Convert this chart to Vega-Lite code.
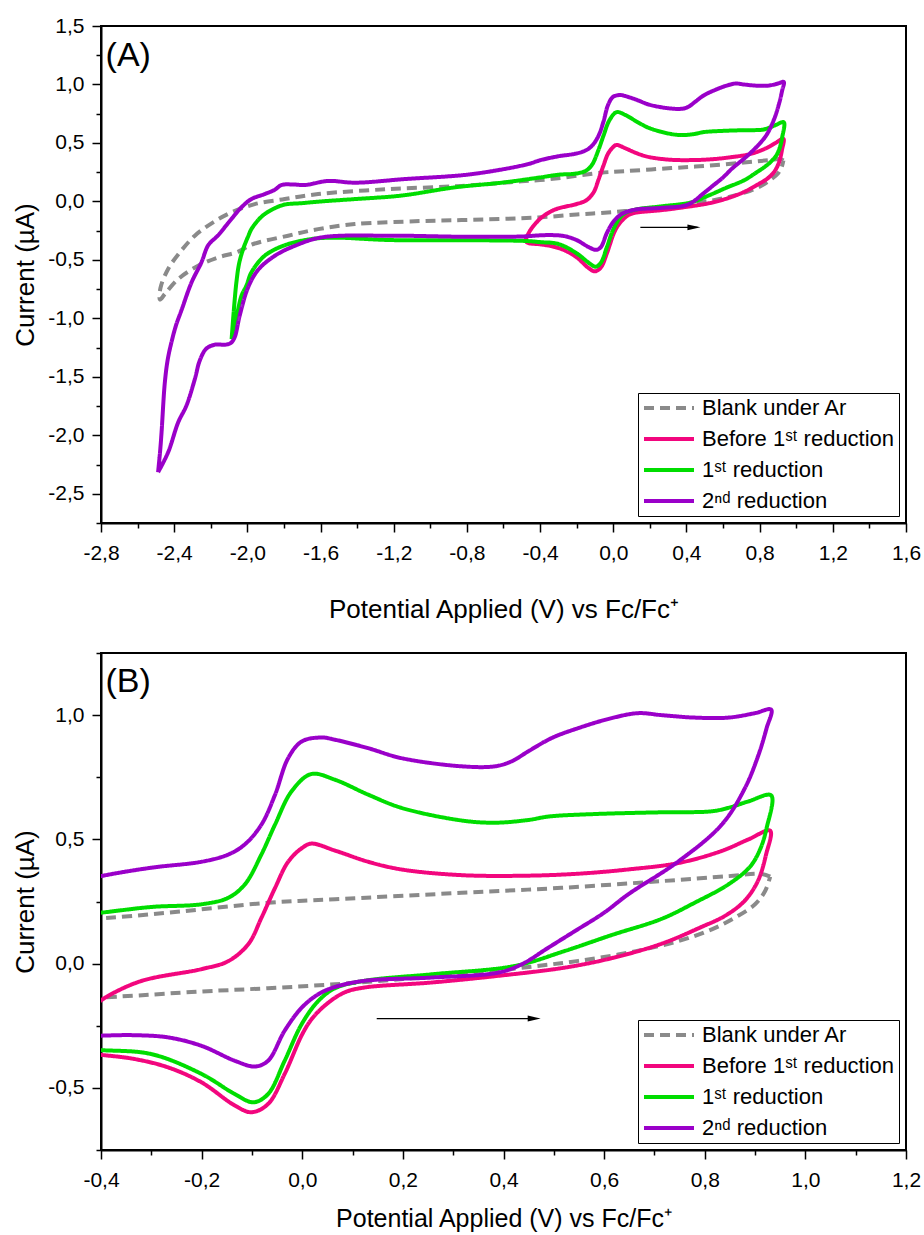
{
  "$schema": "https://vega.github.io/schema/vega-lite/v6.json",
  "autosize": {"type": "pad"},
  "padding": {"left": 11, "top": 14, "right": 10, "bottom": 2},
  "background": "white",
  "config": {
    "view": {"stroke": "black", "strokeWidth": 2},
    "font": "Liberation Sans",
    "axis": {
      "labelFont": "Liberation Sans", "labelFontSize": 21, "labelColor": "black",
      "titleFont": "Liberation Sans", "titleFontSize": 26, "titleFontWeight": "normal", "titleColor": "black",
      "domainColor": "black", "domainWidth": 2, "tickColor": "black", "tickWidth": 1.5,
      "grid": false, "labelOverlap": false, "labelFlush": false, "labelBound": false, "tickCount": 100
    },
    "axisX": {"labelPadding": 10},
    "axisY": {"labelPadding": 8, "titlePadding": 9.5},
    "legend": {
      "orient": "bottom-right", "offset": 7, "title": null,
      "labelFont": "Liberation Sans", "labelFontSize": 22, "labelColor": "black", "labelLimit": 400,
      "symbolType": "stroke", "symbolSize": 2500, "symbolStrokeWidth": 4,
      "strokeColor": "black", "fillColor": "white", "padding": 4, "rowPadding": 9,
      "clipHeight": 22, "labelOffset": 6
    }
  },
  "datasets": {
    "cv": [
      {"s":"blank","i":0,"x":0.93,"y":0.35},{"s":"blank","i":1,"x":0.913,"y":0.361},{"s":"blank","i":2,"x":0.847,"y":0.352},{"s":"blank","i":3,"x":0.714,"y":0.332},{"s":"blank","i":4,"x":0.515,"y":0.305},{"s":"blank","i":5,"x":0.317,"y":0.285},{"s":"blank","i":6,"x":0.065,"y":0.259},{"s":"blank","i":7,"x":-0.068,"y":0.245},{"s":"blank","i":8,"x":-0.266,"y":0.205},{"s":"blank","i":9,"x":-0.4,"y":0.182},{"s":"blank","i":10,"x":-0.5,"y":0.172},{"s":"blank","i":11,"x":-0.83,"y":0.132},{"s":"blank","i":12,"x":-1.23,"y":0.105},{"s":"blank","i":13,"x":-1.613,"y":0.063},{"s":"blank","i":14,"x":-1.796,"y":0.02},{"s":"blank","i":15,"x":-1.96,"y":-0.023},{"s":"blank","i":16,"x":-2.087,"y":-0.094},{"s":"blank","i":17,"x":-2.187,"y":-0.179},{"s":"blank","i":18,"x":-2.287,"y":-0.293},{"s":"blank","i":19,"x":-2.369,"y":-0.436},{"s":"blank","i":20,"x":-2.433,"y":-0.578},{"s":"blank","i":21,"x":-2.475,"y":-0.74},{"s":"blank","i":22,"x":-2.478,"y":-0.84},{"s":"blank","i":23,"x":-2.45,"y":-0.79},{"s":"blank","i":24,"x":-2.378,"y":-0.664},{"s":"blank","i":25,"x":-2.269,"y":-0.55},{"s":"blank","i":26,"x":-2.16,"y":-0.479},{"s":"blank","i":27,"x":-2.05,"y":-0.43},{"s":"blank","i":28,"x":-1.978,"y":-0.37},{"s":"blank","i":29,"x":-1.777,"y":-0.293},{"s":"blank","i":30,"x":-1.613,"y":-0.237},{"s":"blank","i":31,"x":-1.413,"y":-0.194},{"s":"blank","i":32,"x":-1.049,"y":-0.168},{"s":"blank","i":33,"x":-0.83,"y":-0.16},{"s":"blank","i":34,"x":-0.411,"y":-0.137},{"s":"blank","i":35,"x":-0.2,"y":-0.112},{"s":"blank","i":36,"x":-0.068,"y":-0.099},{"s":"blank","i":37,"x":0.065,"y":-0.083},{"s":"blank","i":38,"x":0.2,"y":-0.062},{"s":"blank","i":39,"x":0.32,"y":-0.042},{"s":"blank","i":40,"x":0.456,"y":-0.012},{"s":"blank","i":41,"x":0.549,"y":0.011},{"s":"blank","i":42,"x":0.648,"y":0.044},{"s":"blank","i":43,"x":0.748,"y":0.091},{"s":"blank","i":44,"x":0.814,"y":0.138},{"s":"blank","i":45,"x":0.86,"y":0.185},{"s":"blank","i":46,"x":0.9,"y":0.239},{"s":"blank","i":47,"x":0.92,"y":0.292},{"s":"blank","i":48,"x":0.93,"y":0.35},
      {"s":"before","i":0,"x":-0.48,"y":-0.33},{"s":"before","i":1,"x":-0.455,"y":-0.25},{"s":"before","i":2,"x":-0.42,"y":-0.18},{"s":"before","i":3,"x":-0.39,"y":-0.135},{"s":"before","i":4,"x":-0.32,"y":-0.07},{"s":"before","i":5,"x":-0.2,"y":-0.022},{"s":"before","i":6,"x":-0.147,"y":0.01},{"s":"before","i":7,"x":-0.107,"y":0.079},{"s":"before","i":8,"x":-0.081,"y":0.185},{"s":"before","i":9,"x":-0.054,"y":0.305},{"s":"before","i":10,"x":-0.028,"y":0.41},{"s":"before","i":11,"x":0.0,"y":0.466},{"s":"before","i":12,"x":0.018,"y":0.483},{"s":"before","i":13,"x":0.065,"y":0.455},{"s":"before","i":14,"x":0.131,"y":0.41},{"s":"before","i":15,"x":0.197,"y":0.379},{"s":"before","i":16,"x":0.317,"y":0.356},{"s":"before","i":17,"x":0.45,"y":0.354},{"s":"before","i":18,"x":0.55,"y":0.362},{"s":"before","i":19,"x":0.648,"y":0.379},{"s":"before","i":20,"x":0.748,"y":0.405},{"s":"before","i":21,"x":0.833,"y":0.453},{"s":"before","i":22,"x":0.887,"y":0.5},{"s":"before","i":23,"x":0.93,"y":0.535},{"s":"before","i":24,"x":0.922,"y":0.44},{"s":"before","i":25,"x":0.905,"y":0.33},{"s":"before","i":26,"x":0.878,"y":0.25},{"s":"before","i":27,"x":0.84,"y":0.192},{"s":"before","i":28,"x":0.794,"y":0.148},{"s":"before","i":29,"x":0.714,"y":0.08},{"s":"before","i":30,"x":0.615,"y":0.022},{"s":"before","i":31,"x":0.522,"y":-0.016},{"s":"before","i":32,"x":0.39,"y":-0.049},{"s":"before","i":33,"x":0.257,"y":-0.076},{"s":"before","i":34,"x":0.124,"y":-0.096},{"s":"before","i":35,"x":0.085,"y":-0.115},{"s":"before","i":36,"x":0.05,"y":-0.16},{"s":"before","i":37,"x":0.02,"y":-0.22},{"s":"before","i":38,"x":0.0,"y":-0.284},{"s":"before","i":39,"x":-0.035,"y":-0.444},{"s":"before","i":40,"x":-0.068,"y":-0.565},{"s":"before","i":41,"x":-0.101,"y":-0.598},{"s":"before","i":42,"x":-0.134,"y":-0.571},{"s":"before","i":43,"x":-0.2,"y":-0.478},{"s":"before","i":44,"x":-0.266,"y":-0.418},{"s":"before","i":45,"x":-0.333,"y":-0.384},{"s":"before","i":46,"x":-0.4,"y":-0.367},{"s":"before","i":47,"x":-0.47,"y":-0.352},{"s":"before","i":48,"x":-0.48,"y":-0.33},
      {"s":"r1","i":0,"x":-2.086,"y":-1.177},{"s":"r1","i":1,"x":-2.075,"y":-0.95},{"s":"r1","i":2,"x":-2.06,"y":-0.692},{"s":"r1","i":3,"x":-2.045,"y":-0.53},{"s":"r1","i":4,"x":-2.023,"y":-0.407},{"s":"r1","i":5,"x":-1.996,"y":-0.3},{"s":"r1","i":6,"x":-1.978,"y":-0.237},{"s":"r1","i":7,"x":-1.941,"y":-0.16},{"s":"r1","i":8,"x":-1.905,"y":-0.108},{"s":"r1","i":9,"x":-1.85,"y":-0.058},{"s":"r1","i":10,"x":-1.796,"y":-0.027},{"s":"r1","i":11,"x":-1.704,"y":-0.015},{"s":"r1","i":12,"x":-1.595,"y":0.0},{"s":"r1","i":13,"x":-1.413,"y":0.02},{"s":"r1","i":14,"x":-1.158,"y":0.05},{"s":"r1","i":15,"x":-0.867,"y":0.12},{"s":"r1","i":16,"x":-0.6,"y":0.162},{"s":"r1","i":17,"x":-0.4,"y":0.205},{"s":"r1","i":18,"x":-0.3,"y":0.228},{"s":"r1","i":19,"x":-0.2,"y":0.239},{"s":"r1","i":20,"x":-0.147,"y":0.265},{"s":"r1","i":21,"x":-0.114,"y":0.319},{"s":"r1","i":22,"x":-0.081,"y":0.44},{"s":"r1","i":23,"x":-0.054,"y":0.56},{"s":"r1","i":24,"x":-0.021,"y":0.694},{"s":"r1","i":25,"x":0.018,"y":0.763},{"s":"r1","i":26,"x":0.065,"y":0.74},{"s":"r1","i":27,"x":0.131,"y":0.68},{"s":"r1","i":28,"x":0.197,"y":0.627},{"s":"r1","i":29,"x":0.317,"y":0.576},{"s":"r1","i":30,"x":0.383,"y":0.567},{"s":"r1","i":31,"x":0.449,"y":0.578},{"s":"r1","i":32,"x":0.49,"y":0.592},{"s":"r1","i":33,"x":0.582,"y":0.602},{"s":"r1","i":34,"x":0.714,"y":0.609},{"s":"r1","i":35,"x":0.814,"y":0.613},{"s":"r1","i":36,"x":0.847,"y":0.627},{"s":"r1","i":37,"x":0.887,"y":0.653},{"s":"r1","i":38,"x":0.932,"y":0.677},{"s":"r1","i":39,"x":0.923,"y":0.546},{"s":"r1","i":40,"x":0.91,"y":0.46},{"s":"r1","i":41,"x":0.89,"y":0.39},{"s":"r1","i":42,"x":0.847,"y":0.319},{"s":"r1","i":43,"x":0.78,"y":0.245},{"s":"r1","i":44,"x":0.714,"y":0.18},{"s":"r1","i":45,"x":0.615,"y":0.115},{"s":"r1","i":46,"x":0.522,"y":0.051},{"s":"r1","i":47,"x":0.423,"y":-0.009},{"s":"r1","i":48,"x":0.257,"y":-0.043},{"s":"r1","i":49,"x":0.124,"y":-0.069},{"s":"r1","i":50,"x":0.065,"y":-0.099},{"s":"r1","i":51,"x":0.032,"y":-0.15},{"s":"r1","i":52,"x":-0.001,"y":-0.243},{"s":"r1","i":53,"x":-0.035,"y":-0.391},{"s":"r1","i":54,"x":-0.068,"y":-0.525},{"s":"r1","i":55,"x":-0.097,"y":-0.558},{"s":"r1","i":56,"x":-0.134,"y":-0.525},{"s":"r1","i":57,"x":-0.2,"y":-0.444},{"s":"r1","i":58,"x":-0.3,"y":-0.364},{"s":"r1","i":59,"x":-0.4,"y":-0.348},{"s":"r1","i":60,"x":-0.484,"y":-0.338},{"s":"r1","i":61,"x":-0.83,"y":-0.332},{"s":"r1","i":62,"x":-1.23,"y":-0.33},{"s":"r1","i":63,"x":-1.522,"y":-0.31},{"s":"r1","i":64,"x":-1.65,"y":-0.322},{"s":"r1","i":65,"x":-1.796,"y":-0.375},{"s":"r1","i":66,"x":-1.905,"y":-0.464},{"s":"r1","i":67,"x":-1.978,"y":-0.607},{"s":"r1","i":68,"x":-2.005,"y":-0.72},{"s":"r1","i":69,"x":-2.032,"y":-0.806},{"s":"r1","i":70,"x":-2.058,"y":-0.98},{"s":"r1","i":71,"x":-2.078,"y":-1.12},{"s":"r1","i":72,"x":-2.086,"y":-1.177},
      {"s":"r2","i":0,"x":-2.488,"y":-2.316},{"s":"r2","i":1,"x":-2.476,"y":-2.12},{"s":"r2","i":2,"x":-2.469,"y":-1.974},{"s":"r2","i":3,"x":-2.451,"y":-1.547},{"s":"r2","i":4,"x":-2.435,"y":-1.35},{"s":"r2","i":5,"x":-2.415,"y":-1.205},{"s":"r2","i":6,"x":-2.39,"y":-1.06},{"s":"r2","i":7,"x":-2.36,"y":-0.93},{"s":"r2","i":8,"x":-2.305,"y":-0.692},{"s":"r2","i":9,"x":-2.251,"y":-0.521},{"s":"r2","i":10,"x":-2.214,"y":-0.375},{"s":"r2","i":11,"x":-2.16,"y":-0.29},{"s":"r2","i":12,"x":-2.105,"y":-0.185},{"s":"r2","i":13,"x":-2.032,"y":-0.05},{"s":"r2","i":14,"x":-1.978,"y":0.02},{"s":"r2","i":15,"x":-1.905,"y":0.063},{"s":"r2","i":16,"x":-1.85,"y":0.1},{"s":"r2","i":17,"x":-1.814,"y":0.14},{"s":"r2","i":18,"x":-1.75,"y":0.145},{"s":"r2","i":19,"x":-1.686,"y":0.14},{"s":"r2","i":20,"x":-1.558,"y":0.175},{"s":"r2","i":21,"x":-1.413,"y":0.16},{"s":"r2","i":22,"x":-1.14,"y":0.191},{"s":"r2","i":23,"x":-0.775,"y":0.233},{"s":"r2","i":24,"x":-0.466,"y":0.319},{"s":"r2","i":25,"x":-0.4,"y":0.352},{"s":"r2","i":26,"x":-0.3,"y":0.386},{"s":"r2","i":27,"x":-0.2,"y":0.41},{"s":"r2","i":28,"x":-0.147,"y":0.439},{"s":"r2","i":29,"x":-0.114,"y":0.48},{"s":"r2","i":30,"x":-0.081,"y":0.56},{"s":"r2","i":31,"x":-0.054,"y":0.68},{"s":"r2","i":32,"x":-0.028,"y":0.827},{"s":"r2","i":33,"x":-0.001,"y":0.894},{"s":"r2","i":34,"x":0.038,"y":0.91},{"s":"r2","i":35,"x":0.065,"y":0.901},{"s":"r2","i":36,"x":0.131,"y":0.867},{"s":"r2","i":37,"x":0.197,"y":0.827},{"s":"r2","i":38,"x":0.317,"y":0.794},{"s":"r2","i":39,"x":0.383,"y":0.794},{"s":"r2","i":40,"x":0.416,"y":0.814},{"s":"r2","i":41,"x":0.449,"y":0.854},{"s":"r2","i":42,"x":0.496,"y":0.908},{"s":"r2","i":43,"x":0.549,"y":0.948},{"s":"r2","i":44,"x":0.615,"y":0.988},{"s":"r2","i":45,"x":0.668,"y":1.008},{"s":"r2","i":46,"x":0.714,"y":1.0},{"s":"r2","i":47,"x":0.78,"y":0.99},{"s":"r2","i":48,"x":0.847,"y":0.99},{"s":"r2","i":49,"x":0.9,"y":1.008},{"s":"r2","i":50,"x":0.932,"y":1.022},{"s":"r2","i":51,"x":0.923,"y":0.948},{"s":"r2","i":52,"x":0.907,"y":0.841},{"s":"r2","i":53,"x":0.88,"y":0.707},{"s":"r2","i":54,"x":0.834,"y":0.56},{"s":"r2","i":55,"x":0.748,"y":0.412},{"s":"r2","i":56,"x":0.648,"y":0.279},{"s":"r2","i":57,"x":0.6,"y":0.205},{"s":"r2","i":58,"x":0.542,"y":0.131},{"s":"r2","i":59,"x":0.489,"y":0.064},{"s":"r2","i":60,"x":0.436,"y":-0.003},{"s":"r2","i":61,"x":0.39,"y":-0.036},{"s":"r2","i":62,"x":0.257,"y":-0.056},{"s":"r2","i":63,"x":0.124,"y":-0.069},{"s":"r2","i":64,"x":0.065,"y":-0.094},{"s":"r2","i":65,"x":0.032,"y":-0.123},{"s":"r2","i":66,"x":-0.001,"y":-0.177},{"s":"r2","i":67,"x":-0.035,"y":-0.27},{"s":"r2","i":68,"x":-0.068,"y":-0.391},{"s":"r2","i":69,"x":-0.094,"y":-0.414},{"s":"r2","i":70,"x":-0.134,"y":-0.391},{"s":"r2","i":71,"x":-0.2,"y":-0.331},{"s":"r2","i":72,"x":-0.266,"y":-0.297},{"s":"r2","i":73,"x":-0.333,"y":-0.288},{"s":"r2","i":74,"x":-0.4,"y":-0.29},{"s":"r2","i":75,"x":-0.503,"y":-0.3},{"s":"r2","i":76,"x":-0.83,"y":-0.302},{"s":"r2","i":77,"x":-1.23,"y":-0.293},{"s":"r2","i":78,"x":-1.595,"y":-0.308},{"s":"r2","i":79,"x":-1.741,"y":-0.38},{"s":"r2","i":80,"x":-1.85,"y":-0.465},{"s":"r2","i":81,"x":-1.941,"y":-0.585},{"s":"r2","i":82,"x":-1.996,"y":-0.735},{"s":"r2","i":83,"x":-2.042,"y":-0.977},{"s":"r2","i":84,"x":-2.069,"y":-1.16},{"s":"r2","i":85,"x":-2.09,"y":-1.21},{"s":"r2","i":86,"x":-2.12,"y":-1.225},{"s":"r2","i":87,"x":-2.178,"y":-1.225},{"s":"r2","i":88,"x":-2.225,"y":-1.26},{"s":"r2","i":89,"x":-2.26,"y":-1.36},{"s":"r2","i":90,"x":-2.287,"y":-1.519},{"s":"r2","i":91,"x":-2.333,"y":-1.746},{"s":"r2","i":92,"x":-2.378,"y":-1.889},{"s":"r2","i":93,"x":-2.433,"y":-2.145},{"s":"r2","i":94,"x":-2.488,"y":-2.316}
    ]
  },
  "spacing": 18,
  "resolve": {
    "scale": {"color": "independent", "strokeDash": "independent"},
    "legend": {"color": "independent", "strokeDash": "independent"}
  },
  "vconcat": [
    {
      "width": 805,
      "height": 497,
      "layer": [
        {
          "data": {"name": "cv"},
          "mark": {"type": "line", "strokeWidth": 4, "interpolate": "catmull-rom", "clip": true},
          "encoding": {
            "x": {"field": "x", "type": "quantitative",
              "scale": {"domain": [-2.8, 1.6], "nice": false, "zero": false},
              "axis": {
                "title": "Potential Applied (V) vs Fc/Fc⁺", "titlePadding": 33, "tickCount": 100,
                "values": [-2.8,-2.6,-2.4,-2.2,-2.0,-1.8,-1.6,-1.4,-1.2,-1.0,-0.8,-0.6,-0.4,-0.2,0,0.2,0.4,0.6,0.8,1.0,1.2,1.4,1.6],
                "tickSize": {"condition": {"test": "abs(datum.value*2.5-round(datum.value*2.5))<0.01", "value": 9}, "value": 5},
                "labelExpr": "abs(datum.value*2.5-round(datum.value*2.5))<0.01 ? replace(replace(format(datum.value,'.1f'),'.',','),'\u2212','-') : ''"
              }},
            "y": {"field": "y", "type": "quantitative",
              "scale": {"domain": [-2.75, 1.5], "nice": false, "zero": false},
              "axis": {
                "title": "Current (µA)", "tickCount": 100,
                "values": [-2.75,-2.5,-2.25,-2.0,-1.75,-1.5,-1.25,-1.0,-0.75,-0.5,-0.25,0,0.25,0.5,0.75,1.0,1.25,1.5],
                "tickSize": {"condition": {"test": "abs(datum.value*2-round(datum.value*2))<0.01", "value": 9}, "value": 5},
                "labelExpr": "abs(datum.value*2-round(datum.value*2))<0.01 ? replace(replace(format(datum.value,'.1f'),'.',','),'\u2212','-') : ''"
              }},
            "color": {"field": "s", "type": "nominal",
              "scale": {"domain": ["blank","before","r1","r2"], "range": ["#8a8a8a","#F2067E","#00DD00","#9A00C9"]},
              "legend": {"labelExpr": "datum.label == 'blank' ? 'Blank under Ar' : datum.label == 'before' ? 'Before 1ˢᵗ reduction' : datum.label == 'r1' ? '1ˢᵗ reduction' : '2ⁿᵈ reduction'"}},
            "strokeDash": {"field": "s", "type": "nominal",
              "scale": {"domain": ["blank","before","r1","r2"], "range": [[10,6],[1,0],[1,0],[1,0]]},
              "legend": {"labelExpr": "datum.label == 'blank' ? 'Blank under Ar' : datum.label == 'before' ? 'Before 1ˢᵗ reduction' : datum.label == 'r1' ? '1ˢᵗ reduction' : '2ⁿᵈ reduction'"}},
            "order": {"field": "i", "type": "quantitative"}
          }
        },
        {
          "data": {"values": [{}]},
          "mark": {"type": "text", "text": "(A)", "font": "Liberation Sans", "fontSize": 34, "align": "left", "baseline": "alphabetic", "color": "black"},
          "encoding": {"x": {"datum": -2.775, "type": "quantitative"}, "y": {"datum": 1.16, "type": "quantitative"}}
        },
        {
          "data": {"values": [{}]},
          "mark": {"type": "rule", "color": "black", "strokeWidth": 1.2},
          "encoding": {"x": {"datum": 0.148, "type": "quantitative"}, "x2": {"datum": 0.46}, "y": {"datum": -0.222, "type": "quantitative"}}
        },
        {
          "data": {"values": [{}]},
          "mark": {"type": "point", "shape": "M-1,-0.45L1,0L-1,0.45Z", "filled": true, "color": "black", "size": 169, "opacity": 1, "strokeWidth": 0},
          "encoding": {"x": {"datum": 0.441, "type": "quantitative"}, "y": {"datum": -0.222, "type": "quantitative"}}
        }
      ]
    },
    {
      "width": 805,
      "height": 497,
      "layer": [
        {
          "data": {"name": "cv"},
          "mark": {"type": "line", "strokeWidth": 4, "interpolate": "catmull-rom", "clip": true},
          "encoding": {
            "x": {"field": "x", "type": "quantitative",
              "scale": {"domain": [-0.4, 1.2], "nice": false, "zero": false},
              "axis": {
                "title": "Potential Applied (V) vs Fc/Fc⁺", "titlePadding": 16, "titleFontSize": 25, "tickCount": 100,
                "values": [-0.4,-0.3,-0.2,-0.1,0,0.1,0.2,0.3,0.4,0.5,0.6,0.7,0.8,0.9,1.0,1.1,1.2],
                "tickSize": {"condition": {"test": "abs(datum.value*5-round(datum.value*5))<0.01", "value": 9}, "value": 5},
                "labelExpr": "abs(datum.value*5-round(datum.value*5))<0.01 ? replace(replace(format(datum.value,'.1f'),'.',','),'\u2212','-') : ''"
              }},
            "y": {"field": "y", "type": "quantitative",
              "scale": {"domain": [-0.75, 1.25], "nice": false, "zero": false},
              "axis": {
                "title": "Current (µA)", "tickCount": 100,
                "values": [-0.75,-0.5,-0.25,0,0.25,0.5,0.75,1.0,1.25],
                "tickSize": {"condition": {"test": "abs(datum.value*2-round(datum.value*2))<0.01", "value": 9}, "value": 5},
                "labelExpr": "abs(datum.value*2-round(datum.value*2))<0.01 ? replace(replace(format(datum.value,'.1f'),'.',','),'\u2212','-') : ''"
              }},
            "color": {"field": "s", "type": "nominal",
              "scale": {"domain": ["blank","before","r1","r2"], "range": ["#8a8a8a","#F2067E","#00DD00","#9A00C9"]},
              "legend": {"labelExpr": "datum.label == 'blank' ? 'Blank under Ar' : datum.label == 'before' ? 'Before 1ˢᵗ reduction' : datum.label == 'r1' ? '1ˢᵗ reduction' : '2ⁿᵈ reduction'"}},
            "strokeDash": {"field": "s", "type": "nominal",
              "scale": {"domain": ["blank","before","r1","r2"], "range": [[10,6],[1,0],[1,0],[1,0]]},
              "legend": {"labelExpr": "datum.label == 'blank' ? 'Blank under Ar' : datum.label == 'before' ? 'Before 1ˢᵗ reduction' : datum.label == 'r1' ? '1ˢᵗ reduction' : '2ⁿᵈ reduction'"}},
            "order": {"field": "i", "type": "quantitative"}
          }
        },
        {
          "data": {"values": [{}]},
          "mark": {"type": "text", "text": "(B)", "font": "Liberation Sans", "fontSize": 34, "align": "left", "baseline": "alphabetic", "color": "black"},
          "encoding": {"x": {"datum": -0.391, "type": "quantitative"}, "y": {"datum": 1.092, "type": "quantitative"}}
        },
        {
          "data": {"values": [{}]},
          "mark": {"type": "rule", "color": "black", "strokeWidth": 1.2},
          "encoding": {"x": {"datum": 0.148, "type": "quantitative"}, "x2": {"datum": 0.462}, "y": {"datum": -0.221, "type": "quantitative"}}
        },
        {
          "data": {"values": [{}]},
          "mark": {"type": "point", "shape": "M-1,-0.45L1,0L-1,0.45Z", "filled": true, "color": "black", "size": 169, "opacity": 1, "strokeWidth": 0},
          "encoding": {"x": {"datum": 0.461, "type": "quantitative"}, "y": {"datum": -0.221, "type": "quantitative"}}
        }
      ]
    }
  ]
}
